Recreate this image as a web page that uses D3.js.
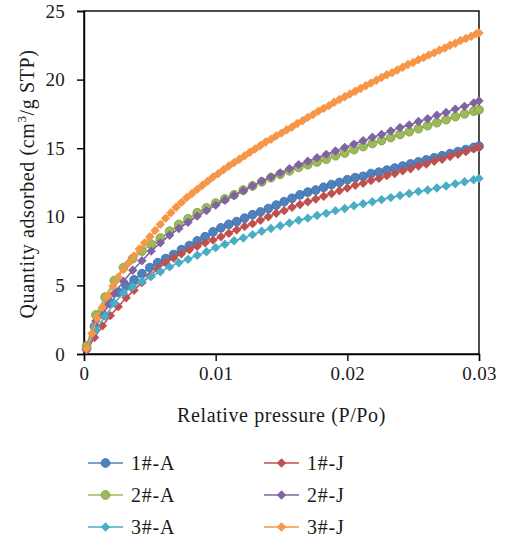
<!DOCTYPE html>
<html>
<head>
<meta charset="utf-8">
<script src="https://cdnjs.cloudflare.com/ajax/libs/d3/7.8.5/d3.min.js"></script>
<style>
  body { margin: 0; background: #fff; }
  text { font-family: "Liberation Serif", "DejaVu Serif", serif; fill: #1a1a1a; }
</style>
</head>
<body>
<svg id="chart" width="506" height="545"></svg>
<script>
// relative pressure sampling of each run
var pressure6 = [0.0002,0.0008,0.0014,0.0020,0.0026,0.0032,0.0038,0.0044,0.0050,0.0056,
  0.0062,0.0068,0.0074,0.0080,0.0086,0.0092,0.0098,0.0104,0.0110,0.0116,
  0.0122,0.0128,0.0134,0.0140,0.0146,0.0152,0.0158,0.0164,0.0170,0.0176,
  0.0182,0.0188,0.0194,0.0200,0.0206,0.0212,0.0218,0.0224,0.0230,0.0236,
  0.0242,0.0248,0.0254,0.0260,0.0266,0.0272,0.0278,0.0284,0.0290,0.0296,0.0300];
var pressure7 = [0.0002,0.0009,0.0016,0.0023,0.0030,0.0037,0.0044,0.0051,0.0058,0.0065,
  0.0072,0.0079,0.0086,0.0093,0.0100,0.0107,0.0114,0.0121,0.0128,0.0135,
  0.0142,0.0149,0.0156,0.0163,0.0170,0.0177,0.0184,0.0191,0.0198,0.0205,
  0.0212,0.0219,0.0226,0.0233,0.0240,0.0247,0.0254,0.0261,0.0268,0.0275,
  0.0282,0.0289,0.0296,0.0300];
var pressure4 = [0.0002,0.0006,0.0010,0.0014,0.0018,0.0022,0.0026,0.0030,0.0034,0.0038,
  0.0042,0.0046,0.0050,0.0054,0.0058,0.0062,0.0066,0.0070,0.0074,0.0078,
  0.0082,0.0086,0.0090,0.0094,0.0098,0.0102,0.0106,0.0110,0.0114,0.0118,
  0.0122,0.0126,0.0130,0.0134,0.0138,0.0142,0.0146,0.0150,0.0154,0.0158,
  0.0162,0.0166,0.0170,0.0174,0.0178,0.0182,0.0186,0.0190,0.0194,0.0198,
  0.0202,0.0206,0.0210,0.0214,0.0218,0.0222,0.0226,0.0230,0.0234,0.0238,
  0.0242,0.0246,0.0250,0.0254,0.0258,0.0262,0.0266,0.0270,0.0274,0.0278,
  0.0282,0.0286,0.0290,0.0294,0.0298,0.0300];

// quantity adsorbed, cm3/g STP
var s1A = [0.4,2.0,2.9,3.7,4.5,4.95,5.4,5.85,6.3,6.65,
  6.95,7.25,7.6,7.9,8.25,8.55,8.9,9.2,9.45,9.65,
  9.9,10.15,10.35,10.6,10.85,11.1,11.35,11.6,11.8,11.95,
  12.15,12.35,12.5,12.7,12.85,12.95,13.15,13.25,13.4,13.55,
  13.7,13.85,14.0,14.15,14.3,14.45,14.6,14.75,14.9,15.05,15.15];
var s1J = [0.3,1.2,2.05,2.8,3.45,4.1,4.65,5.2,5.7,6.2,
  6.65,7.0,7.3,7.6,7.85,8.1,8.3,8.55,8.8,9.05,
  9.3,9.5,9.75,10.0,10.25,10.45,10.7,10.9,11.1,11.3,
  11.5,11.7,11.9,12.1,12.3,12.45,12.65,12.8,13.0,13.15,
  13.35,13.5,13.7,13.85,14.05,14.2,14.4,14.55,14.75,14.95,15.05];
var s2A = [0.6,2.85,4.15,5.35,6.3,6.95,7.5,8.0,8.45,8.95,
  9.45,9.85,10.3,10.65,11.0,11.3,11.6,11.95,12.25,12.55,
  12.85,13.1,13.35,13.6,13.8,14.0,14.2,14.45,14.65,14.9,
  15.12,15.34,15.56,15.78,16.0,16.2,16.42,16.64,16.86,17.08,
  17.3,17.5,17.7,17.8];
var s2J = [0.4,2.4,3.5,4.4,5.3,6.1,6.8,7.5,8.1,8.65,
  9.15,9.6,10.05,10.45,10.85,11.2,11.55,11.9,12.25,12.6,
  12.9,13.2,13.5,13.8,14.05,14.3,14.55,14.8,15.05,15.3,
  15.55,15.8,16.0,16.25,16.5,16.7,16.95,17.15,17.4,17.6,
  17.85,18.05,18.3,18.45];
var s3A = [0.4,1.7,2.75,3.7,4.45,4.9,5.3,5.65,6.0,6.35,
  6.65,6.9,7.2,7.45,7.75,8.0,8.25,8.45,8.7,8.95,
  9.15,9.35,9.55,9.75,9.9,10.1,10.25,10.45,10.6,10.8,
  10.95,11.1,11.25,11.4,11.55,11.7,11.85,11.95,12.1,12.25,
  12.4,12.55,12.7,12.8];
var s3J = [0.4,1.5,2.6,3.4,4.2,4.95,5.6,6.15,6.65,7.15,
  7.65,8.1,8.55,9.0,9.45,9.9,10.3,10.7,11.05,11.4,
  11.7,12.0,12.3,12.6,12.9,13.15,13.43,13.7,13.95,14.2,
  14.45,14.7,14.95,15.2,15.45,15.65,15.9,16.1,16.35,16.55,
  16.8,17.0,17.25,17.45,17.7,17.9,18.1,18.35,18.55,18.75,
  18.95,19.15,19.35,19.55,19.75,19.95,20.15,20.35,20.5,20.7,
  20.9,21.1,21.25,21.45,21.6,21.8,21.95,22.15,22.3,22.5,
  22.65,22.85,23.0,23.15,23.35,23.4];

var seriesNames = ["1#-A", "1#-J", "2#-A", "2#-J", "3#-A", "3#-J"];
var xTicks = [0, 0.01, 0.02, 0.03];
var yTicks = [0, 5, 10, 15, 20, 25];

var colors = ["#4F81BD", "#C0504D", "#9BBB59", "#8064A2", "#4BACC6", "#F79646"];
var borders = ["#3C6CA8", "#C0504D", "#7E9C40", "#8064A2", "#4BACC6", "#F79646"];
var shapes = ["circle", "diamond", "circle", "diamond", "diamond", "diamond"];

var series = [
  { x: pressure6, y: s1A },
  { x: pressure6, y: s1J },
  { x: pressure7, y: s2A },
  { x: pressure7, y: s2J },
  { x: pressure7, y: s3A },
  { x: pressure4, y: s3J }
];
series.forEach(function(s, i) {
  s.name = seriesNames[i];
  s.color = colors[i];
  s.border = borders[i];
  s.shape = shapes[i];
  s.points = s.x.map(function(p, j) { return [p, s.y[j]]; });
});

var svg = d3.select("#chart");
var plotLeft = 84, plotRight = 479, plotTop = 11, plotBottom = 354;

var x = d3.scaleLinear().domain([0, 0.03]).range([plotLeft, plotRight]);
var y = d3.scaleLinear().domain([0, 25]).range([plotBottom, plotTop]);

// frame
svg.append("rect")
  .attr("x", plotLeft).attr("y", plotTop)
  .attr("width", plotRight - plotLeft).attr("height", plotBottom - plotTop)
  .style("fill", "none").style("stroke", "#000").style("stroke-width", 1.4);

var xAxis = svg.append("g")
  .attr("transform", "translate(0," + plotBottom + ")")
  .call(d3.axisBottom(x).tickValues(xTicks).tickSize(7).tickPadding(6)
    .tickFormat(function(d) { return d === 0 ? "0" : d3.format(".2f")(d); }));
var yAxis = svg.append("g")
  .attr("transform", "translate(" + plotLeft + ",0)")
  .call(d3.axisLeft(y).tickValues(yTicks).tickSize(7).tickPadding(12));

[xAxis, yAxis].forEach(function(a) {
  a.select(".domain").style("stroke", "#000").style("stroke-width", 1.4);
  a.selectAll(".tick line").style("stroke", "#000").style("stroke-width", 1.4);
  a.selectAll(".tick text")
    .style("font-family", "'Liberation Serif', 'DejaVu Serif', serif")
    .style("font-size", "19px")
    .style("letter-spacing", "0.3px")
    .style("fill", "#1a1a1a");
});

svg.append("text")
  .attr("x", (plotLeft + plotRight) / 2).attr("y", 422)
  .attr("text-anchor", "middle")
  .style("font-size", "20px")
  .style("letter-spacing", "0.6px")
  .text("Relative pressure (P/Po)");

var yTitle = svg.append("text")
  .attr("transform", "translate(34,184) rotate(-90)")
  .attr("text-anchor", "middle")
  .style("font-size", "20px")
  .style("letter-spacing", "0.6px");
yTitle.append("tspan").text("Quantity adsorbed (cm");
yTitle.append("tspan").attr("dy", -8).style("font-size", "13px").text("3");
yTitle.append("tspan").attr("dy", 8).text("/g STP)");

function drawMarker(g, shape, cx, cy, s) {
  if (shape === "circle") {
    g.append("circle")
      .attr("cx", cx).attr("cy", cy).attr("r", 4.4)
      .style("fill", s.color).style("stroke", s.border).style("stroke-width", 0.8);
  } else {
    var r = 4.7;
    g.append("path")
      .attr("d", "M" + cx + "," + (cy - r) + "L" + (cx + r) + "," + cy +
        "L" + cx + "," + (cy + r) + "L" + (cx - r) + "," + cy + "Z")
      .style("fill", s.color);
  }
}

var line = d3.line()
  .x(function(d) { return x(d[0]); })
  .y(function(d) { return y(d[1]); });

var plot = svg.append("g");
series.forEach(function(s) {
  var g = plot.append("g");
  g.append("path")
    .datum(s.points)
    .attr("d", line)
    .style("fill", "none")
    .style("stroke", s.color)
    .style("stroke-width", 1.6);
  s.points.forEach(function(d) {
    drawMarker(g, s.shape, x(d[0]), y(d[1]), s);
  });
});

// legend, two columns filled row by row
var legend = svg.append("g");
series.forEach(function(s, i) {
  var col = i % 2, row = Math.floor(i / 2);
  var lx = 88 + col * 176, ly = 463 + row * 32;
  var g = legend.append("g");
  g.append("line")
    .attr("x1", lx).attr("x2", lx + 35)
    .attr("y1", ly).attr("y2", ly)
    .style("stroke", s.color).style("stroke-width", 2).style("stroke-opacity", 0.75);
  drawMarker(g, s.shape, lx + 17.5, ly, s);
  g.append("text")
    .attr("x", lx + 43).attr("y", ly + 7)
    .style("font-size", "20px")
    .style("letter-spacing", "0.8px")
    .text(s.name);
});
</script>
</body>
</html>
